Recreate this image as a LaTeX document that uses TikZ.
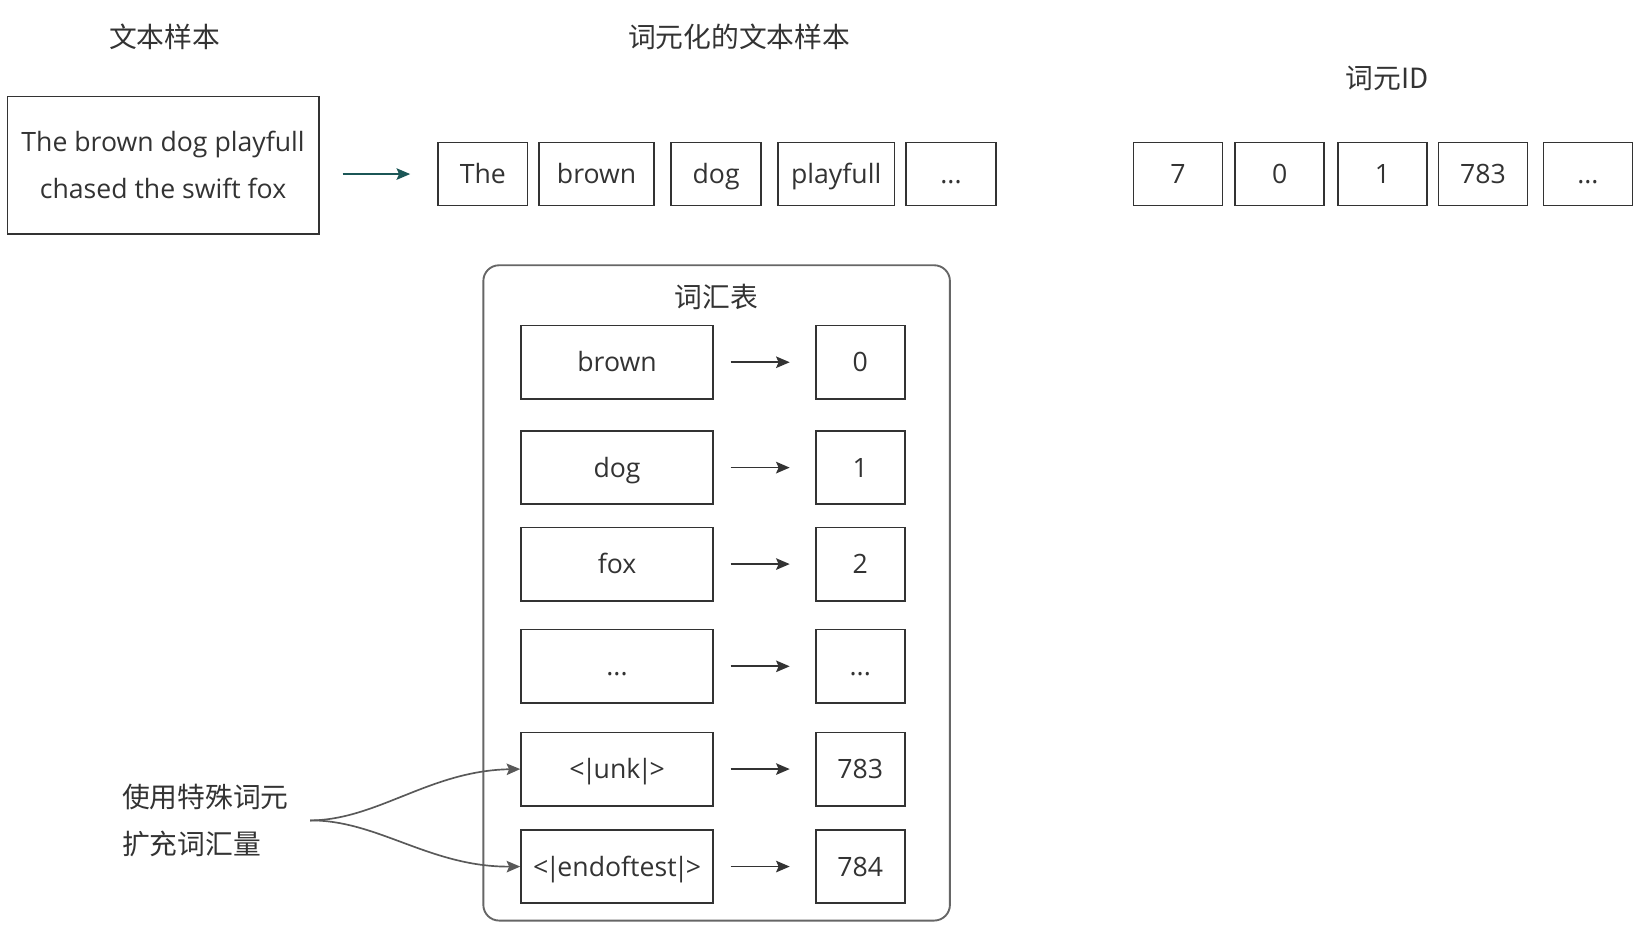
\documentclass[tikz,border=0pt]{standalone}
\usepackage{fontspec}
\setmainfont{Open Sans}
\newfontfamily\cjk{Noto Sans CJK SC}
\usetikzlibrary{arrows.meta,positioning}

\definecolor{inkgray}{HTML}{333333}
\definecolor{framegray}{HTML}{666666}
\definecolor{curvegray}{HTML}{595959}
\definecolor{tealink}{HTML}{1B5656}

\newcommand{\tokfont}{\fontsize{12.7}{15}\selectfont}
\newcommand{\zhfont}{\cjk\fontsize{13.25}{16}\selectfont}
\newcommand{\tightbar}{\kern-1.3pt|\kern-1.3pt}

\begin{document}
\begin{tikzpicture}[x=0.5pt,y=-0.5pt,
    box/.style={draw=inkgray, rectangle, line width=0.8pt, inner sep=0pt,
                text=inkgray, font=\tokfont},
    cell/.style={box, text height=11.5pt, text depth=2.5pt},
    tokbox/.style={cell, minimum height=30pt},
    rowbox/.style={cell, minimum width=91.5pt, minimum height=35pt},
    idbox/.style={cell, minimum width=42.5pt, minimum height=35pt},
    title/.style={text=inkgray, font=\zhfont, inner sep=0pt},
    maparrow/.style={draw=inkgray, line width=0.8pt,
                     -{Stealth[length=6.5pt,width=5.5pt,inset=1.2pt]},
                     shorten <=8pt, shorten >=12pt},
    bendarrow/.style={draw=curvegray, line width=0.8pt,
                      -{Stealth[length=6.5pt,width=5.5pt,inset=1.2pt]}}]
    \useasboundingbox (0,0) rectangle (1568,883);

    % titles
    \node[title] (sampletitle) at (157,35) {文本样本};
    \node[title] (tokentitle) at (705,35) {词元化的文本样本};
    \node[title] (idtitle) at (1323,75) {词元ID};

    % input sentence
    \node[box, minimum width=148.5pt, minimum height=65.5pt, align=center,
          font=\fontsize{12.7}{22.5}\selectfont] (sentence) at (155.5,157.5)
          {The brown dog playfull\\chased the swift fox};

    % tokenized sample
    \node[tokbox, minimum width=42.5pt] (the) at (460.5,166) {The};
    \node[tokbox, minimum width=55pt] (brown) at (569,166) {brown};
    \node[tokbox, minimum width=43pt] (dog) at (683,166) {dog};
    \node[tokbox, minimum width=55.5pt] (playfull) at (797.5,166) {playfull};
    \node[tokbox, minimum width=43pt] (tokdots) at (907,166) {...};
    \draw[draw=tealink, line width=0.8pt,
          -{Stealth[length=6.5pt,width=5.5pt,inset=1.2pt]},
          shorten <=11pt, shorten >=13pt] (sentence.east |- the.west) -- (the.west);

    % token ids
    \node[tokbox, minimum width=42.5pt] (idseven) at (1123.5,166) {7};
    \node[tokbox, minimum width=42.5pt] (idzero) at (1220.5,166) {0};
    \node[tokbox, minimum width=42.5pt] (idone) at (1318.5,166) {1};
    \node[tokbox, minimum width=42.5pt] (idunk) at (1414.5,166) {783};
    \node[tokbox, minimum width=42.5pt] (iddots) at (1514.5,166) {...};

    % vocabulary
    \node[draw=framegray, line width=0.9pt, rounded corners=7.5pt,
          minimum width=222.5pt, minimum height=312.5pt] (vocab) at (683.5,565.5) {};
    \node[title] (vocabtitle) at (683,283) {词汇表};

    \node[rowbox] (vbrown) at (588.5,345.5) {brown};
    \node[rowbox] (vdog) at (588.5,446) {dog};
    \node[rowbox] (vfox) at (588.5,538) {fox};
    \node[rowbox] (vdots) at (588.5,635.5) {...};
    \node[rowbox] (vunk) at (588.5,733.5) {<\tightbar unk\tightbar>};
    \node[rowbox] (vend) at (588.5,826.5) {<\tightbar endoftest\tightbar>};

    \node[idbox] (nbrown) at (820.5,345.5) {0};
    \node[idbox] (ndog) at (820.5,446) {1};
    \node[idbox] (nfox) at (820.5,538) {2};
    \node[idbox] (ndots) at (820.5,635.5) {...};
    \node[idbox] (nunk) at (820.5,733.5) {783};
    \node[idbox] (nend) at (820.5,826.5) {784};

    \draw[maparrow] (vbrown) -- (nbrown);
    \draw[maparrow] (vdog) -- (ndog);
    \draw[maparrow] (vfox) -- (nfox);
    \draw[maparrow] (vdots) -- (ndots);
    \draw[maparrow] (vunk) -- (nunk);
    \draw[maparrow] (vend) -- (nend);

    % special tokens
    \node[title, anchor=west, align=left,
          font=\cjk\fontsize{13.25}{22.5}\selectfont] (special) at (116,782.5)
          {使用特殊词元\\扩充词汇量};
    \coordinate (fork) at ([xshift=10pt]special.east);
    \draw[bendarrow] (fork) .. controls (360,782) and (410,735) .. (vunk.west);
    \draw[bendarrow] (fork) .. controls (360,782) and (410,827) .. (vend.west);
\end{tikzpicture}
\end{document}
